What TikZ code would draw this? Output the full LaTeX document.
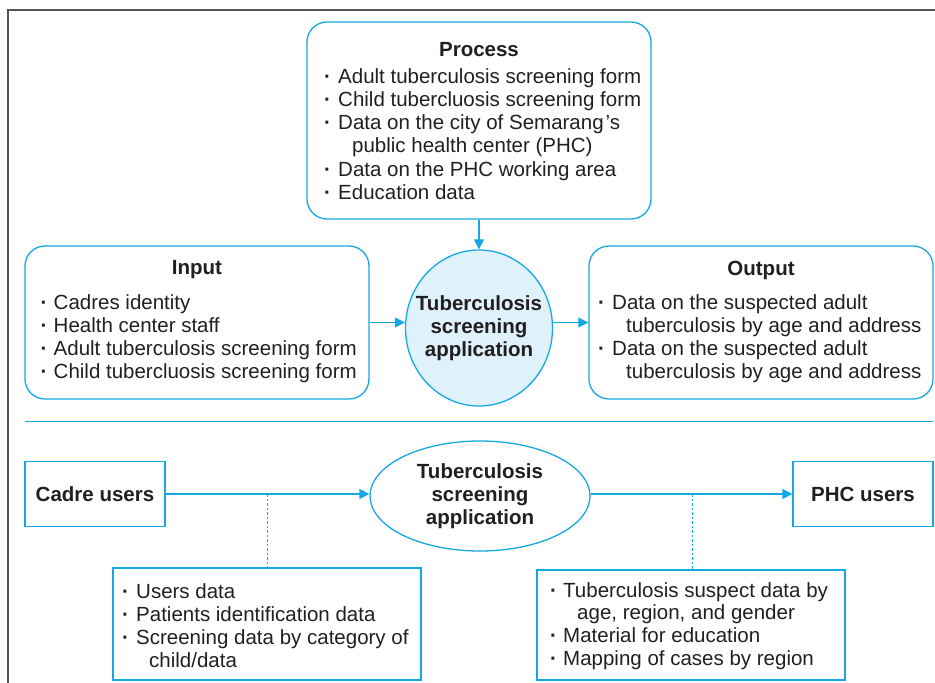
\documentclass[tikz,border=0pt]{standalone}
\usepackage{fontspec}
\setmainfont{Liberation Sans}
\usetikzlibrary{arrows.meta,shapes.geometric,calc}
\definecolor{tblue}{HTML}{16A8E4}
\definecolor{tfill}{HTML}{DFF1FA}
\definecolor{ttext}{HTML}{231F20}
\definecolor{framec}{HTML}{555555}
\newcommand{\bl}[1]{\makebox[13pt][l]{\textbf{·}}#1}
\newcommand{\blw}[1]{\makebox[14pt][l]{\textbf{·}}#1}
\begin{document}
\begin{tikzpicture}[x=1pt,y=-1pt,
 rbox/.style={draw=tblue,line width=1.3pt,rounded corners=20pt,inner sep=0pt},
 sbox/.style={draw=tblue,line width=1.3pt,inner sep=0pt},
 txt/.style={font=\fontsize{20.5}{23.3}\selectfont,text=ttext,inner sep=0pt,anchor=base west,align=left},
 ttl/.style={font=\bfseries\fontsize{20.5}{23.3}\selectfont,text=ttext,inner sep=0pt,align=center},
 arr/.style={draw=tblue,line width=1.3pt,-{Triangle[length=10pt,width=10pt]}},
 dsh/.style={draw=tblue,line width=0.9pt,dash pattern=on 2.5pt off 2pt},
]
\useasboundingbox (0,0) rectangle (935,683);
\draw[framec,line width=2pt] (8,683) -- (8,10) -- (935,10);

% ---------- top part ----------
\node[rbox,minimum width=344pt,minimum height=197pt] (proc) at (479,120.5) {};
\node[ttl] (proct) at (479,50) {Process};
% anchor base = baseline of the last line
\node[txt] (procl) at (324,199.5) {\blw{Adult tuberculosis screening form}\\
\blw{Child tubercluosis screening form}\\
\blw{Data on the city of Semarang\kern2pt’s}\\
\hspace*{28pt}public health center (PHC)\\
\blw{Data on the PHC working area}\\
\blw{Education data}};

\node[draw=tblue,line width=1.3pt,fill=tfill,ellipse,inner sep=0pt,minimum width=147pt,minimum height=156pt] (app) at (479,328) {};
\node[ttl] (appt) at (app.center) {Tuberculosis\\screening\\application};

\node[rbox,minimum width=344pt,minimum height=153pt] (inp) at (197,322.5) {};
\node[ttl] (inpt) at (197,270) {Input};
\node[txt] (inpl) at (40.5,378.9) {\bl{Cadres identity}\\
\bl{Health center staff}\\
\bl{Adult tuberculosis screening form}\\
\bl{Child tubercluosis screening form}};

\node[rbox,minimum width=344pt,minimum height=153pt] (out) at (761,322.5) {};
\node[ttl] (outt) at (761,270) {Output};
\node[txt] (outl) at (598,378.9) {\blw{Data on the suspected adult}\\
\hspace*{28pt}tuberculosis by age and address\\
\blw{Data on the suspected adult}\\
\hspace*{28pt}tuberculosis by age and address};

\draw[arr] (proc.south) -- (app.north);
\draw[arr] (inp.east) -- (inp.east -| app.west);
\draw[arr] (app.east |- out.west) -- (out.west);

\draw[tblue,line width=0.8pt] (25,421) -- (933,421);

% ---------- bottom part ----------
\node[sbox,minimum width=140pt,minimum height=65pt] (cad) at (95,494) {};
\node[ttl] (cadt) at (cad.center) {Cadre users};
\node[sbox,minimum width=140pt,minimum height=65pt] (phc) at (863,494) {};
\node[ttl] (phct) at (phc.center) {PHC users};
\node[draw=tblue,line width=1.3pt,ellipse,inner sep=0pt,minimum width=220pt,minimum height=110pt] (ell) at (480,496) {};
\node[ttl] (ellt) at (ell.center) {Tuberculosis\\screening\\application};

\draw[arr] (cad.east) -- (cad.east -| ell.west);
\draw[arr] (ell.east |- phc.west) -- (phc.west);

\node[sbox,minimum width=308pt,minimum height=112pt] (lb) at (267,624) {};
\node[txt] (lbl) at (122,667.9) {\blw{Users data}\\
\blw{Patients identification data}\\
\blw{Screening data by category of}\\
\hspace*{27pt}child/data};
\node[sbox,minimum width=308pt,minimum height=110pt] (rb) at (691,625) {};
\node[txt,font=\fontsize{20.5}{22.7}\selectfont] (rbl) at (550,665.1) {\bl{Tuberculosis suspect data by}\\
\hspace*{27pt}age, region, and gender\\
\bl{Material for education}\\
\bl{Mapping of cases by region}};

\coordinate (d1) at (267,494);
\coordinate (d2) at (692,494);
\draw[dsh] (d1) -- (d1 |- lb.north);
\draw[dsh] (d2) -- (d2 |- rb.north);
\end{tikzpicture}
\end{document}
